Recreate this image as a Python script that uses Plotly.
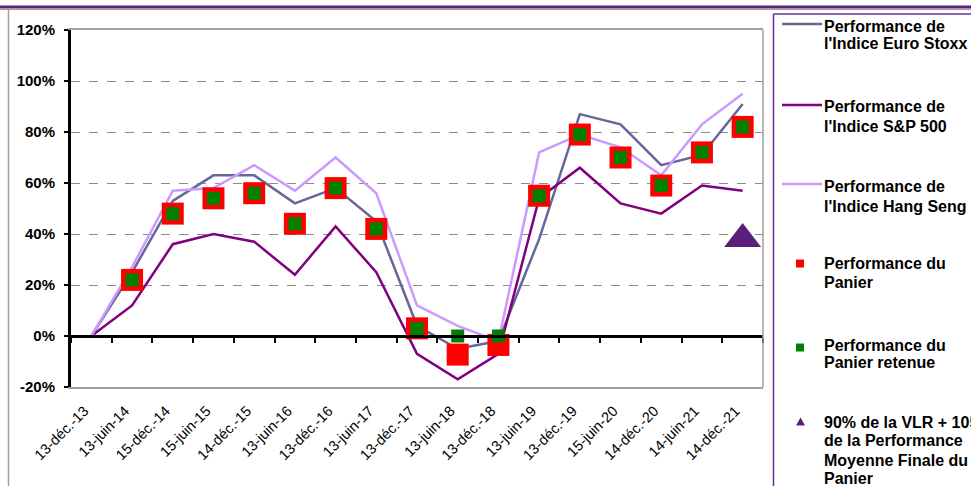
import plotly.graph_objects as go

# ── data ────────────────────────────────────────────────────────────────
dates = ["13-déc.-13", "13-juin-14", "15-déc.-14", "15-juin-15", "14-déc.-15",
         "13-juin-16", "13-déc.-16", "13-juin-17", "13-déc.-17", "13-juin-18",
         "13-déc.-18", "13-juin-19", "13-déc.-19", "15-juin-20", "14-déc.-20",
         "14-juin-21", "14-déc.-21"]

euro_stoxx = [0, 25, 53, 63, 63, 52, 58, 45, 4, -5, -2, 38, 87, 83, 67, 71, 91]
sp500      = [0, 12, 36, 40, 37, 24, 43, 25, -7, -17, -7, 54, 66, 52, 48, 59, 57]
hang_seng  = [0, 27, 57, 58, 67, 57, 70, 56, 12, 4, -2, 72, 79, 74, 63, 83, 95]
panier     = [None, 22, 48, 54, 56, 44, 58, 42, 3, -7.3, -3.5, 55, 79, 70, 59, 72, 82]
panier_ret = [None, 22, 48, 54, 56, 44, 58, 42, 3, 0, 0, 55, 79, 70, 59, 72, 82]
vlr        = [None] * 16 + [38]

y_ticks = [-20, 0, 20, 40, 60, 80, 100, 120]
y_tick_labels = ["-20%", "0%", "20%", "40%", "60%", "80%", "100%", "120%"]

# ── style ───────────────────────────────────────────────────────────────
W, H = 971, 486
ML, MR, MT, MB = 71, 208, 30, 99
PW, PH = W - ML - MR, H - MT - MB

C_EURO = "#666699"
C_SP = "#800080"
C_HANG = "#CC99FF"
C_RED = "#FF0000"
C_GREEN = "#008000"
C_TRI = "#5B1F7A"
C_FRAME = "#5B2378"
C_GREY = "#A0A0A0"
FONT = "Liberation Sans, Arial, sans-serif"


def px(x):
    return (x - ML) / PW


def py(y):
    return (H - MB - y) / PH


fig = go.Figure()
for name, vals, col in [("euro", euro_stoxx, C_EURO), ("sp", sp500, C_SP),
                        ("hang", hang_seng, C_HANG)]:
    fig.add_trace(go.Scatter(x=dates, y=vals, mode="lines", name=name,
                             line=dict(color=col, width=2.5), showlegend=False))

fig.add_trace(go.Scatter(x=dates, y=panier, mode="markers", showlegend=False,
                         marker=dict(symbol="square", size=22, color=C_RED,
                                     line=dict(width=0))))
fig.add_trace(go.Scatter(x=dates, y=panier_ret, mode="markers", showlegend=False,
                         marker=dict(symbol="square", size=13, color=C_GREEN,
                                     line=dict(width=0))))
fig.add_trace(go.Scatter(x=dates, y=vlr, mode="markers", showlegend=False, xaxis="x2",
                         marker=dict(symbol="triangle-up", size=32, color=C_TRI,
                                     line=dict(width=0))))

fig.update_layout(
    width=W, height=H,
    margin=dict(l=ML, r=MR, t=MT, b=MB, autoexpand=False),
    paper_bgcolor="white", plot_bgcolor="white",
    font=dict(family=FONT, color="black"),
    xaxis=dict(type="category", categoryorder="array", categoryarray=dates,
               range=[-0.5, len(dates) - 0.5], showgrid=False, ticks="",
               showline=True, linecolor=C_GREY, linewidth=1.5, mirror=True,
               tickangle=-45, ticklabelstandoff=8, ticklabelshift=-7,
               automargin=False,
               tickfont=dict(family=FONT, size=14.5, color="black")),
    xaxis2=dict(type="category", categoryorder="array", categoryarray=dates,
                range=[-0.5, len(dates) - 0.5], overlaying="x", anchor="free",
                position=1 / 7, showgrid=False, showticklabels=False,
                showline=True, linecolor="black", linewidth=2.5, automargin=False,
                ticks="outside", tickson="boundaries", ticklen=5,
                tickwidth=2, tickcolor="black"),
    yaxis=dict(range=[-20, 120], tickvals=y_ticks, ticktext=y_tick_labels,
               showgrid=True, gridcolor="#8C8C8C", griddash="dash", gridwidth=1,
               zeroline=False, showline=True, linecolor="black", linewidth=3,
               ticks="outside", ticklen=4, tickwidth=2, tickcolor="black",
               ticklabelstandoff=6, automargin=False,
               tickfont=dict(family=FONT, size=15, color="black", weight="bold")),
)

# frame: top purple rule, chart-area border, right border of plot area
shapes = [
    dict(type="line", xref="paper", yref="paper", x0=px(0), x1=px(W),
         y0=py(7), y1=py(7), line=dict(color=C_FRAME, width=3)),
    dict(type="line", xref="paper", yref="paper", x0=px(0), x1=px(W),
         y0=py(9.5), y1=py(9.5), line=dict(color=C_GREY, width=1)),
    dict(type="line", xref="paper", yref="paper", x0=px(8.5), x1=px(8.5),
         y0=py(9.5), y1=py(H), line=dict(color=C_GREY, width=1.5)),
    dict(type="line", xref="paper", yref="paper", x0=1, x1=1, y0=0, y1=1,
         line=dict(color=C_GREY, width=1.5)),
    # legend box
    dict(type="line", xref="paper", yref="paper", x0=px(773.5), x1=px(773.5),
         y0=py(14), y1=py(H), line=dict(color="#6B2C91", width=1.5)),
    dict(type="line", xref="paper", yref="paper", x0=px(773.5), x1=px(W),
         y0=py(14), y1=py(14), line=dict(color="#6B2C91", width=1.5)),
]

# legend symbols
for yy, col in [(24, C_EURO), (105, C_SP), (184, C_HANG)]:
    shapes.append(dict(type="line", xref="paper", yref="paper", x0=px(782), x1=px(822),
                       y0=py(yy), y1=py(yy), line=dict(color=col, width=2.5)))
for yy, col in [(263.5, C_RED), (347.5, C_GREEN)]:
    shapes.append(dict(type="rect", xref="paper", yref="paper", x0=px(796), x1=px(804),
                       y0=py(yy - 4), y1=py(yy + 4), line=dict(width=0), fillcolor=col))
shapes.append(dict(type="path", xref="paper", yref="paper",
                   path=f"M {px(796)},{py(425.5)} L {px(805)},{py(425.5)} "
                        f"L {px(800.5)},{py(417.5)} Z",
                   line=dict(width=0), fillcolor=C_TRI))
fig.update_layout(shapes=shapes)

legend_lines = [
    (26, "Performance de"), (44, "l'Indice Euro Stoxx 50"),
    (106, "Performance de"), (126, "l'Indice S&P 500"),
    (186, "Performance de"), (206, "l'Indice Hang Seng"),
    (263.5, "Performance du"), (282, "Panier"),
    (345, "Performance du"), (362, "Panier retenue"),
    (422.5, "90% de la VLR + 105%"), (441, "de la Performance"),
    (460, "Moyenne Finale du"), (478, "Panier"),
]
for yy, txt in legend_lines:
    fig.add_annotation(xref="paper", yref="paper", x=px(822), y=py(yy),
                       text=f"<b>{txt}</b>", showarrow=False,
                       xanchor="left", yanchor="middle",
                       font=dict(family=FONT, size=16, color="black"))

# page body has a default 8px margin; drop it so the figure sits at (0, 0)
fig.write_html("out.html", config={"displayModeBar": False},
               post_script="document.body.style.margin='0';"
                           "document.body.style.overflow='hidden';")
